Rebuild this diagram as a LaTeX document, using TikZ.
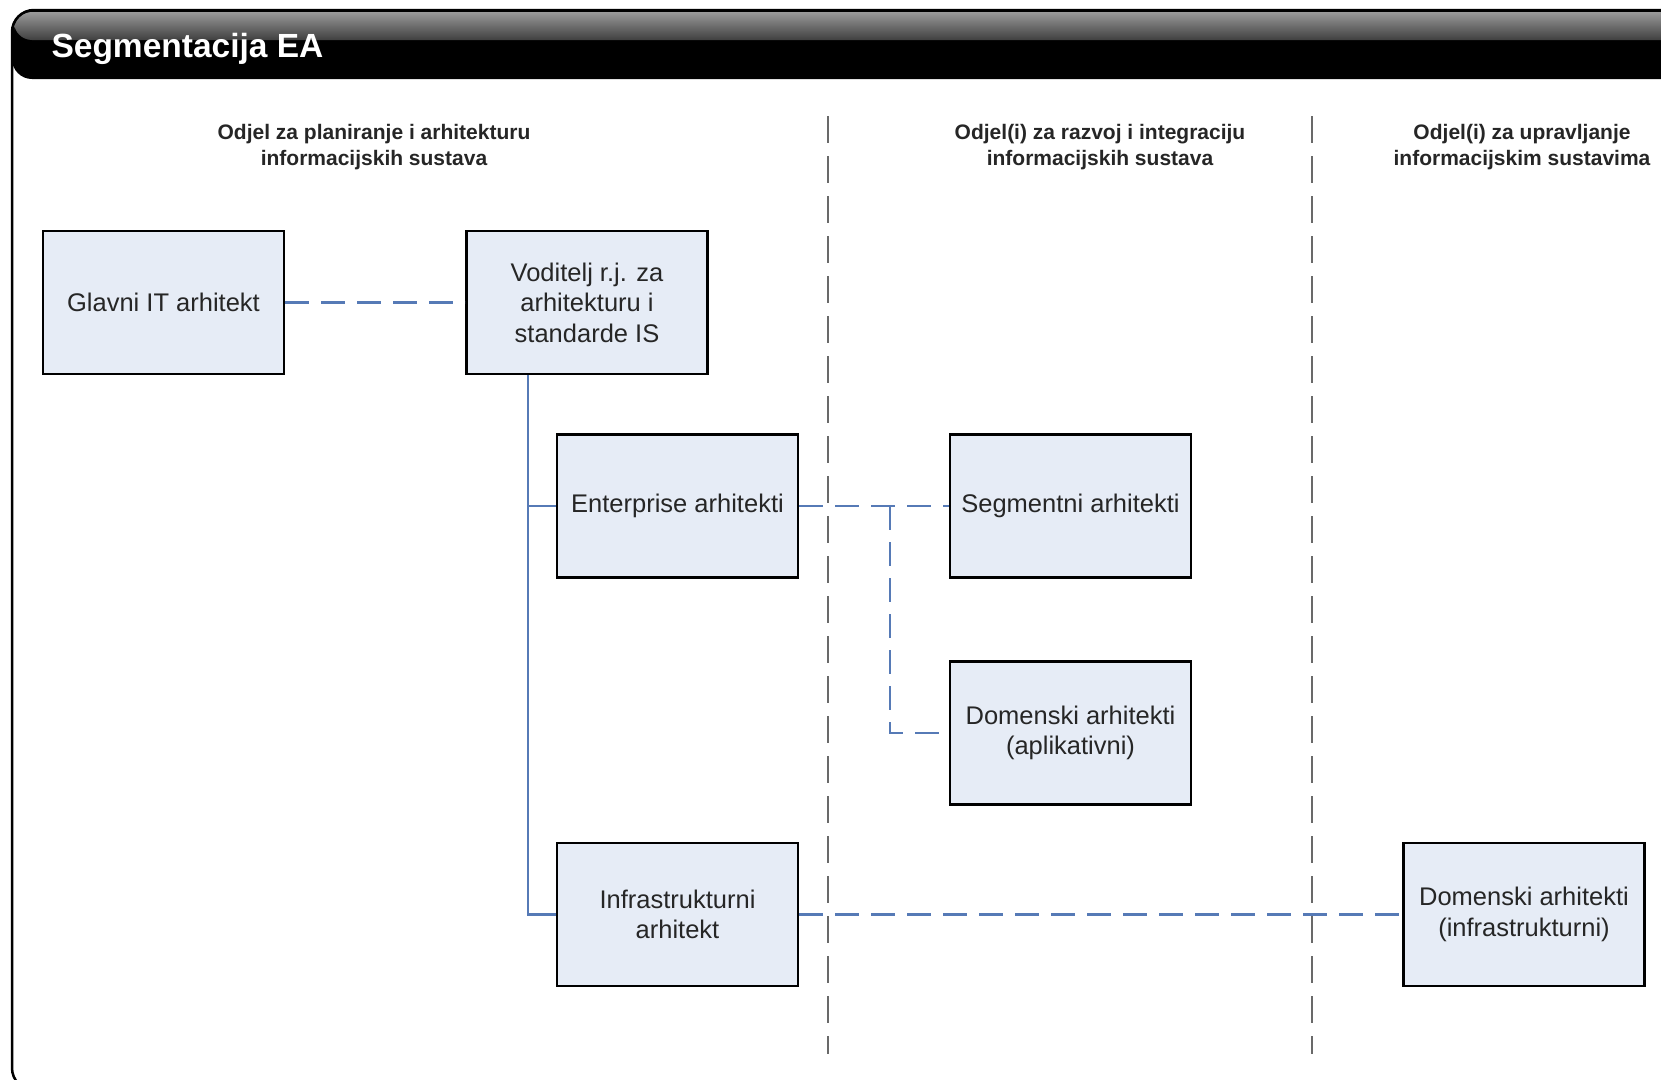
\documentclass[tikz,border=0pt]{standalone}
\usepackage{fontspec}
\setmainfont{Liberation Sans}
\usepackage{xcolor}
\definecolor{boxfill}{RGB}{230,236,246}
\definecolor{linkblue}{RGB}{86,122,182}
\definecolor{divgray}{RGB}{105,105,105}

\begin{document}
\begin{tikzpicture}[x=1pt,y=-1pt,
    box/.style={draw=black,line width=2.5pt,fill=boxfill,minimum width=241pt,minimum height=143pt,
        align=center,font=\fontsize{25.5}{30.6}\selectfont,text=black!85},
    dept/.style={align=center,font=\fontsize{21}{25.5}\selectfont\bfseries,text=black!85},
    link/.style={draw=linkblue,line width=2.5pt},
    dlink/.style={link,dash pattern=on 24pt off 12pt},
    divider/.style={draw=divgray,line width=2.2pt,dash pattern=on 27pt off 13pt}]
    \useasboundingbox (0,0) rectangle (1661,1079);
    \clip (0,0) rectangle (1661,1079);

    % frame and title bar
    \fill[white] (0,0) rectangle (1661,1079);
    \fill[black,rounded corners=20pt] (12,10) rectangle (1720,79);
    \shade[top color=black!40,bottom color=black!75,rounded corners=18pt] (14,12) rectangle (1720,40);
    \draw[black,line width=2.5pt,rounded corners=22pt] (12,10) rectangle (1720,1090);
    \node[anchor=base west,text=white,font=\fontsize{33.5}{40}\selectfont\bfseries] (title) at (48,57) {Segmentacija EA};

    % departments
    \node[dept] (dplan) at (374,147) {Odjel za planiranje i arhitekturu\\informacijskih sustava};
    \node[dept] (drazvoj) at (1100,147) {Odjel(i) za razvoj i integraciju\\informacijskih sustava};
    \node[dept] (dupr) at (1522,147) {Odjel(i) za upravljanje\\informacijskim sustavima};
    \foreach \x in {828,1312}
        \draw[divider] (\x,116) -- (\x,1054);

    % roles
    \node[box] (glavni) at (163.5,302.5) {Glavni IT arhitekt};
    \node[box] (voditelj) at (587,302.5) {Voditelj r.j. za\\arhitekturu i\\standarde IS};
    \node[box] (enterprise) at (677.5,506) {Enterprise arhitekti};
    \node[box] (infra) at (677.5,914.5) {Infrastrukturni\\arhitekt};
    \node[box] (segment) at (1070.5,506) {Segmentni arhitekti};
    \node[box] (domapl) at (1070.5,733) {Domenski arhitekti\\(aplikativni)};
    \node[box] (dominf) at (1524,914.5) {Domenski arhitekti\\(infrastrukturni)};

    \coordinate (trunk) at (528,375);
    \coordinate (split) at (890,506);

    \draw[link] (trunk) |- (infra.west);
    \draw[link] (trunk |- enterprise.west) -- (enterprise.west);
    \draw[dlink] (glavni) -- (voditelj);
    \draw[dlink] (enterprise) -- (segment);
    \draw[dlink] (split) |- (domapl.west);
    \draw[dlink] (infra) -- (dominf);
\end{tikzpicture}
\end{document}
